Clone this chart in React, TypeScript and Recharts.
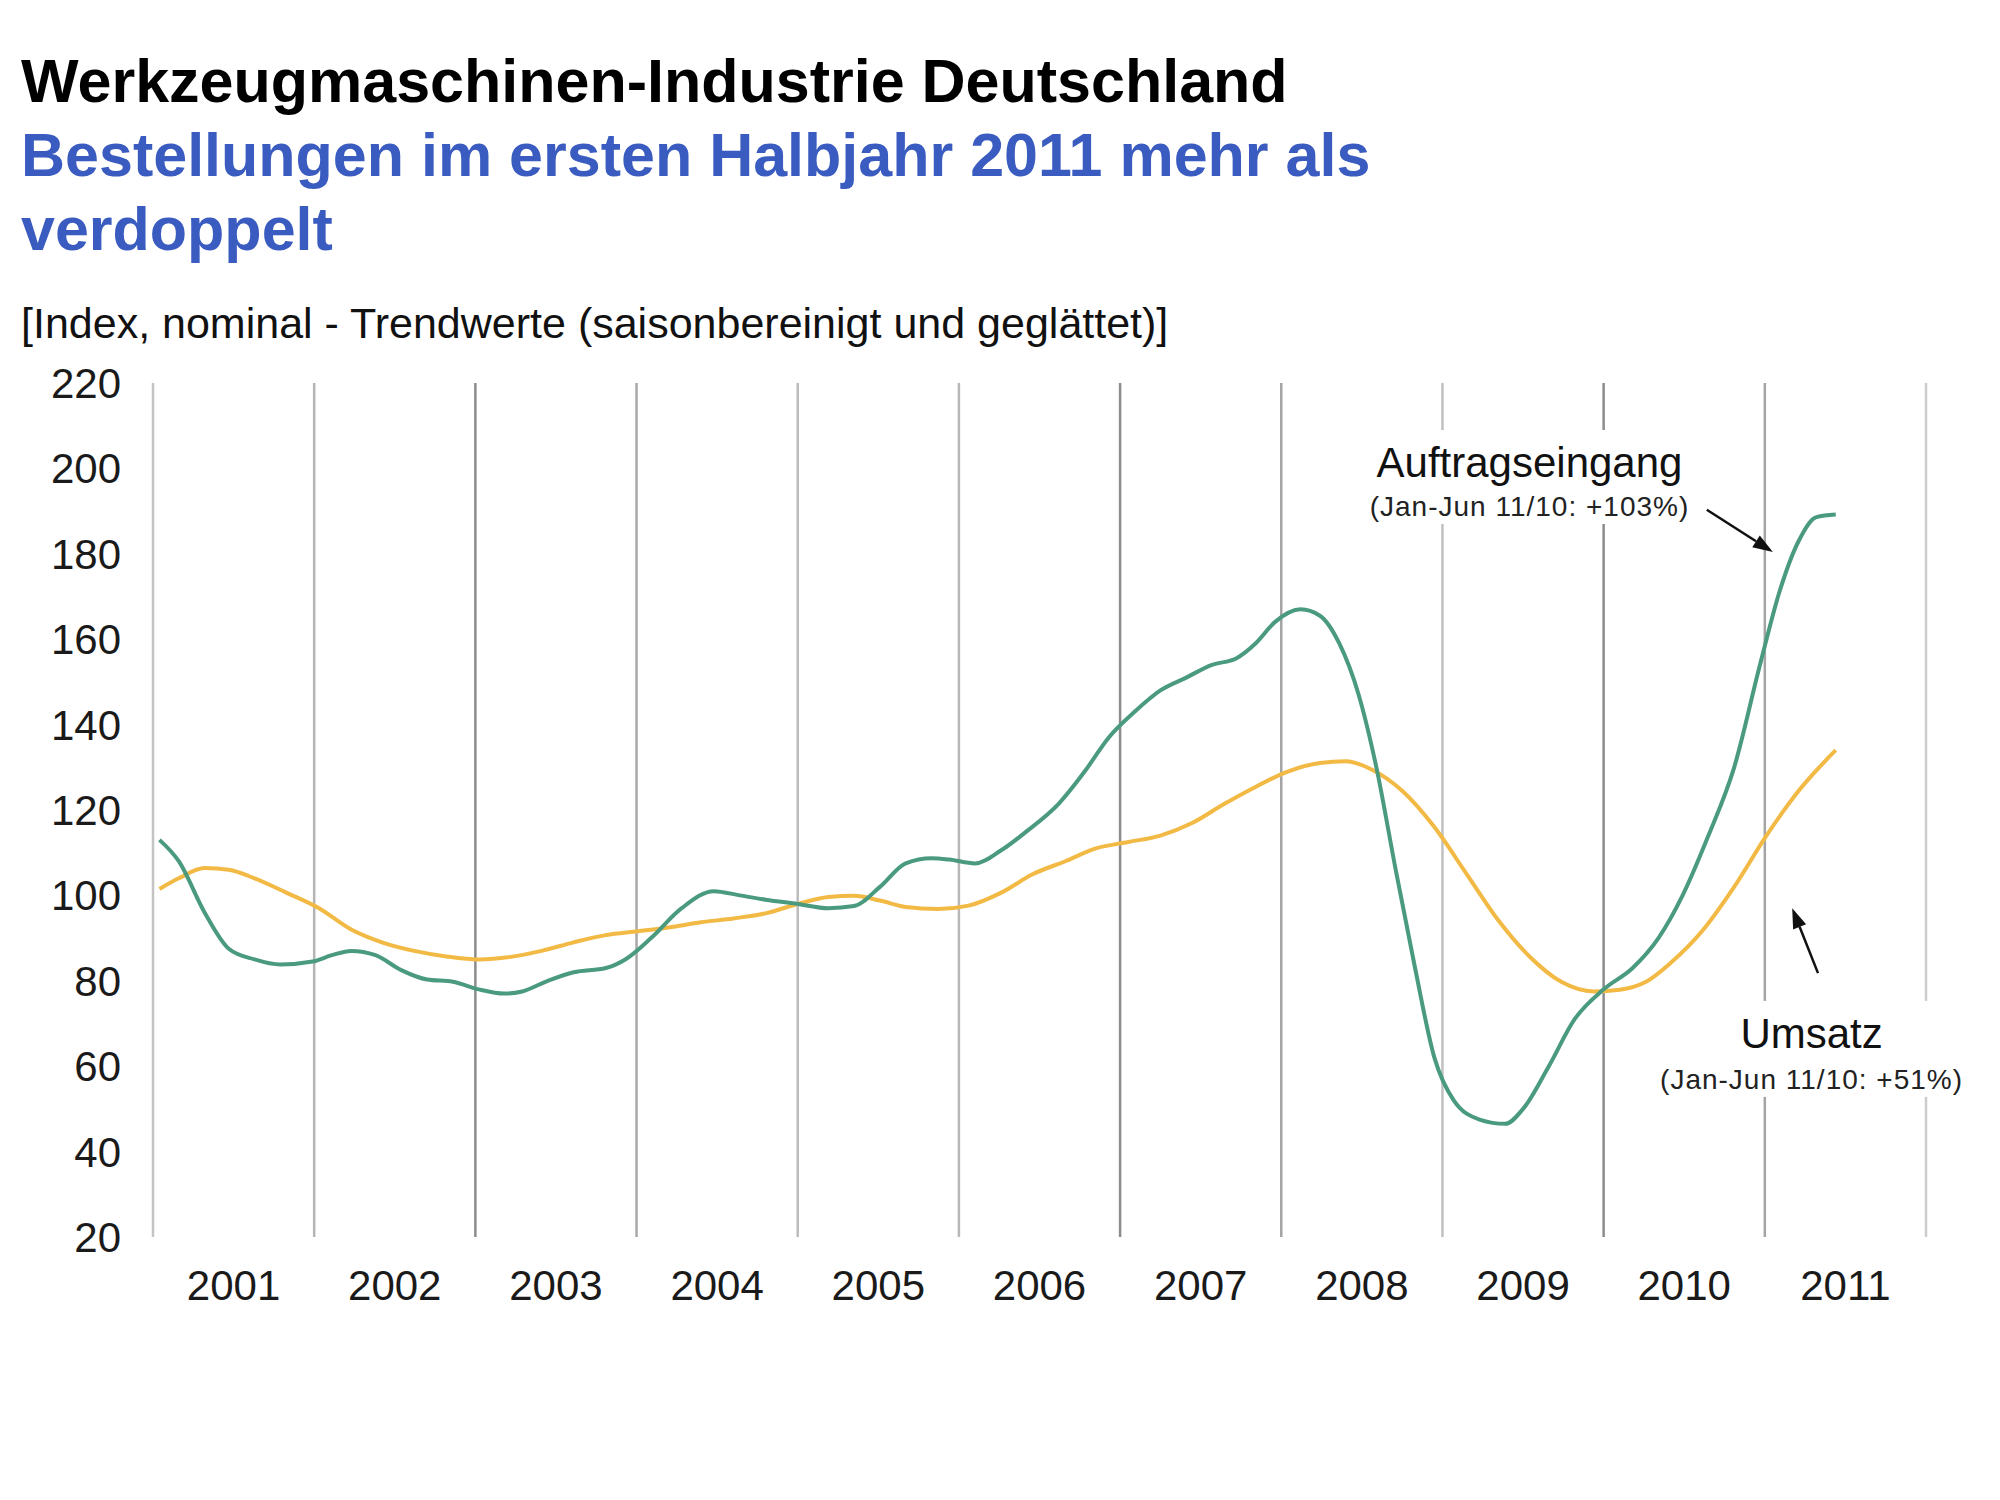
import React from "react";
import {
  LineChart,
  Line,
  XAxis,
  YAxis,
  ReferenceLine,
  ReferenceDot,
} from "recharts";

// Auftragseingang (orders): time in years, index value
const ORDER_T = [
  2001.04, 2001.16, 2001.32, 2001.47, 2001.63, 2001.79, 2001.99, 2002.11, 2002.23, 2002.38,
  2002.54, 2002.7, 2002.86, 2003.02, 2003.18, 2003.29, 2003.45, 2003.61, 2003.81, 2003.93,
  2004.09, 2004.28, 2004.48, 2004.64, 2004.8, 2005.0, 2005.19, 2005.35, 2005.51, 2005.67,
  2005.83, 2005.94, 2006.1, 2006.26, 2006.42, 2006.62, 2006.78, 2006.93, 2007.09, 2007.25,
  2007.41, 2007.57, 2007.72, 2007.84, 2007.96, 2008.12, 2008.24, 2008.36, 2008.48, 2008.59,
  2008.71, 2008.83, 2008.95, 2009.07, 2009.23, 2009.39, 2009.5, 2009.66, 2009.82, 2010.0,
  2010.18, 2010.34, 2010.49, 2010.65, 2010.81, 2010.97, 2011.09, 2011.21, 2011.32, 2011.44,
];
const ORDER_V = [
  113, 108, 96, 87.5, 85, 83.8, 84.5, 86, 87, 86,
  82.5, 80.3, 79.8, 78, 77, 77.5, 80, 82, 83, 85,
  90, 97, 101, 100, 99, 98, 97, 97.5, 102, 107.5,
  108.7, 108.4, 107.5, 110.5, 115, 121.5, 129, 137, 143, 148,
  151, 154, 155.5, 159, 164, 167, 165.5, 159, 147, 130,
  106, 83, 62, 52, 47.5, 46.5, 50, 60, 71, 78,
  83, 90, 100, 114, 130, 154, 171, 183, 188.6, 189.2,
];

// Umsatz (sales)
const SALES_T = [
  2001.04, 2001.16, 2001.32, 2001.47, 2001.63, 2001.83, 2002.03, 2002.23, 2002.42, 2002.62,
  2002.82, 2003.02, 2003.22, 2003.41, 2003.61, 2003.81, 2004.01, 2004.2, 2004.4, 2004.6,
  2004.8, 2005.0, 2005.19, 2005.35, 2005.51, 2005.67, 2005.87, 2006.06, 2006.26, 2006.46,
  2006.66, 2006.85, 2007.05, 2007.25, 2007.45, 2007.65, 2007.84, 2008.04, 2008.24, 2008.4,
  2008.56, 2008.75, 2008.95, 2009.15, 2009.35, 2009.54, 2009.74, 2009.94, 2010.1, 2010.26,
  2010.41, 2010.61, 2010.81, 2011.01, 2011.21, 2011.44,
];
const SALES_V = [
  101.5, 104, 106.4, 106, 104, 100.6, 97, 92, 89, 87,
  85.7, 85, 85.6, 87, 89, 90.7, 91.6, 92.5, 93.7, 94.6,
  95.8, 98, 99.6, 99.9, 98.8, 97.3, 96.8, 97.6, 100.6, 105,
  108, 111, 112.5, 114, 117, 121.5, 125.4, 129, 131, 131.4,
  129.5, 124.5, 116, 105, 94, 85.7, 79.7, 77.5, 77.9, 79.7,
  84, 91.6, 102, 114, 124.5, 134,
];

const YEAR_LINES = [2001, 2002, 2003, 2004, 2005, 2006, 2007, 2008, 2009, 2010, 2011, 2012];
const GRID_SHADES = ["#c4c4c4", "#b4b4b4", "#8c8c8c", "#a8a8a8", "#bdbdbd", "#b8b8b8", "#8c8c8c", "#a4a4a4", "#c0c0c0", "#8c8c8c", "#a4a4a4", "#cccccc"];
const YEAR_LABELS = [2001, 2002, 2003, 2004, 2005, 2006, 2007, 2008, 2009, 2010, 2011];
const Y_TICKS = [20, 40, 60, 80, 100, 120, 140, 160, 180, 200, 220];

const TITLE = "Werkzeugmaschinen-Industrie Deutschland";
const SUBTITLE = ["Bestellungen im ersten Halbjahr 2011 mehr als", "verdoppelt"];
const UNIT = "[Index, nominal - Trendwerte (saisonbereinigt und geglättet)]";

const orderData = ORDER_T.map((t, i) => ({ t, v: ORDER_V[i] }));
const salesData = SALES_T.map((t, i) => ({ t, v: SALES_V[i] }));

const GREEN = "#4a9a80";
const YELLOW = "#f2ba45";
const FONT = "'Liberation Sans', Arial, sans-serif";

function arrowShape(props: any) {
  const { x1, y1, x2, y2 } = props;
  const ang = Math.atan2(y2 - y1, x2 - x1);
  const len = 20;
  const half = 7;
  const bx = x2 - len * Math.cos(ang);
  const by = y2 - len * Math.sin(ang);
  const px = -Math.sin(ang) * half;
  const py = Math.cos(ang) * half;
  return (
    <g>
      <line x1={x1} y1={y1} x2={bx} y2={by} stroke="#111" strokeWidth={2.5} />
      <polygon points={`${x2},${y2} ${bx + px},${by + py} ${bx - px},${by - py}`} fill="#111" />
    </g>
  );
}

function labelShape(main: string, sub: string, w: number, gap: number) {
  return (props: any) => {
    const { cx, cy } = props;
    return (
      <g>
        <rect x={cx - w / 2} y={cy - 32} width={w} height={gap + 50} fill="#fff" />
        <text x={cx} y={cy + 15} textAnchor="middle" fontFamily={FONT} fontSize={42} fill="#111">
          {main}
        </text>
        <text
          x={cx}
          y={cy + gap + 10}
          textAnchor="middle"
          fontFamily={FONT}
          fontSize={28}
          letterSpacing={1}
          fill="#222"
        >
          {sub}
        </text>
      </g>
    );
  };
}

export default function App() {
  return (
    <div style={{ position: "absolute", left: 0, top: 0, width: 2000, height: 1500, background: "#fff", fontFamily: FONT }}>
      <LineChart
        width={2000}
        height={1500}
        margin={{ top: 383, right: 74, bottom: 183, left: 20 }}
      >
        <XAxis
          type="number"
          dataKey="t"
          domain={[2001, 2012]}
          ticks={YEAR_LABELS.map((y) => y + 0.5)}
          tickFormatter={(v) => String(Math.floor(v))}
          axisLine={false}
          tickLine={false}
          tickSize={0}
          tickMargin={33}
          height={80}
          interval={0}
          allowDataOverflow
          tick={{ fontSize: 42, fill: "#1a1a1a", fontFamily: FONT }}
        />
        <YAxis
          type="number"
          domain={[20, 220]}
          ticks={Y_TICKS}
          axisLine={false}
          tickLine={false}
          tickSize={0}
          tickMargin={32}
          width={133}
          interval={0}
          tick={{ fontSize: 42, fill: "#1a1a1a", fontFamily: FONT }}
        />
        {YEAR_LINES.map((y, i) => (
          <ReferenceLine key={y} x={y} stroke={GRID_SHADES[i]} strokeWidth={2.5} />
        ))}
        <Line
          data={salesData}
          dataKey="v"
          type="monotone"
          stroke={YELLOW}
          strokeWidth={4}
          dot={false}
          activeDot={false}
          isAnimationActive={false}
        />
        <Line
          data={orderData}
          dataKey="v"
          type="monotone"
          stroke={GREEN}
          strokeWidth={4}
          dot={false}
          activeDot={false}
          isAnimationActive={false}
        />
        <ReferenceDot
          x={2009.54}
          y={201.5}
          r={0}
          shape={labelShape("Auftragseingang", "(Jan-Jun 11/10: +103%)", 336, 44)}
        />
        <ReferenceDot
          x={2011.29}
          y={67.8}
          r={0}
          shape={labelShape("Umsatz", "(Jan-Jun 11/10: +51%)", 310, 46)}
        />
        <ReferenceLine
          segment={[{ x: 2010.64, y: 190.3 }, { x: 2011.05, y: 180.4 }]}
          shape={arrowShape}
        />
        <ReferenceLine
          segment={[{ x: 2011.33, y: 81.8 }, { x: 2011.17, y: 97 }]}
          shape={arrowShape}
        />
      </LineChart>

      <div style={{ position: "absolute", left: 21, top: 44, fontSize: 61, lineHeight: "74px", fontWeight: 700, color: "#000", whiteSpace: "nowrap" }}>
        {TITLE}
      </div>
      <div style={{ position: "absolute", left: 21, top: 118, fontSize: 61, lineHeight: "74px", fontWeight: 700, color: "#3a5bbf", whiteSpace: "nowrap" }}>
        {SUBTITLE.map((s) => (
          <div key={s}>{s}</div>
        ))}
      </div>
      <div style={{ position: "absolute", left: 21, top: 302, fontSize: 43, lineHeight: "43px", color: "#111", whiteSpace: "nowrap" }}>
        {UNIT}
      </div>
    </div>
  );
}
